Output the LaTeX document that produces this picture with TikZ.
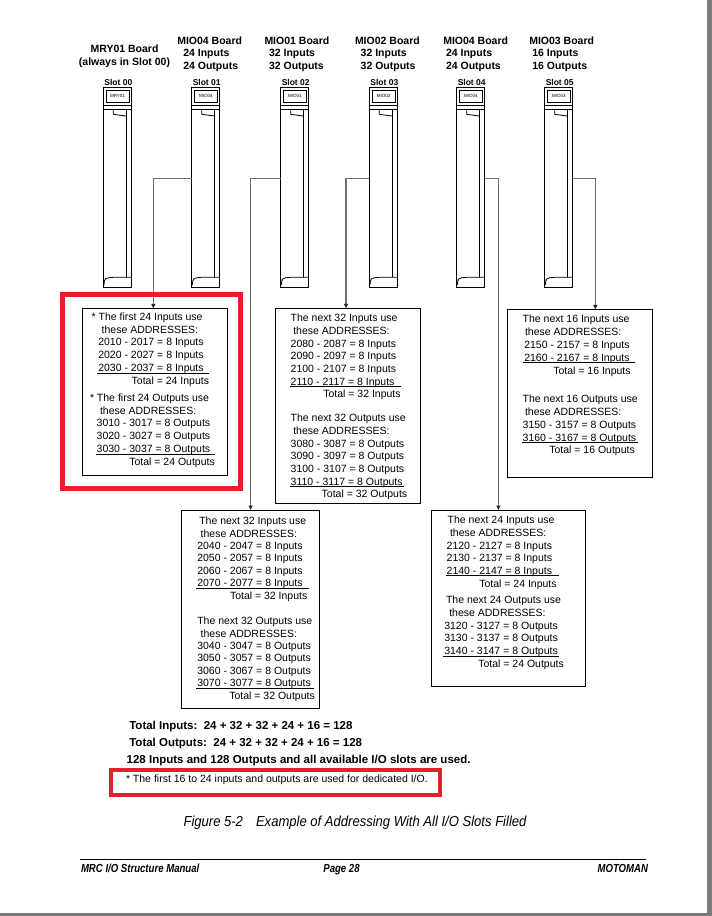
\documentclass[tikz,border=0pt]{standalone}
\usepackage{fontspec}
\setmainfont{Liberation Sans}
\newfontfamily\narrowfont[FakeStretch=0.82]{Liberation Sans}
\newfontfamily\captionfont[FakeStretch=0.9]{Liberation Sans}
\usepackage{xcolor}
\usetikzlibrary{arrows.meta}
\definecolor{wire}{HTML}{707070}
\definecolor{alert}{HTML}{E5202A}
\definecolor{pageedge}{HTML}{7A7A7A}
\newcommand{\ulrule}[1]{\makebox[0pt][l]{\hspace*{-1.2pt}\rule[-1.8pt]{#1}{0.8pt}}}

\begin{document}
\begin{tikzpicture}[x=1pt, y=-1pt,
      every node/.style={inner sep=0pt, outer sep=0pt},
      header/.style={font=\fontsize{10.5}{12.7}\selectfont\bfseries, align=left, anchor=north west},
      slotlabel/.style={font=\fontsize{8.5}{9}\selectfont\bfseries},
      cardlabel/.style={font=\fontsize{4.5}{5}\selectfont},
      card/.style={draw, line width=0.8pt, minimum width=28pt, minimum height=200.3pt},
      addrbox/.style={draw, line width=0.8pt},
      addrtext/.style={font=\fontsize{10.5}{12.7}\selectfont, align=left, anchor=north west},
      summary/.style={font=\fontsize{11.5}{14}\selectfont\bfseries, anchor=base west},
      link/.style={draw=wire, line width=1.6pt, -{Triangle[length=4.5pt, width=4pt, color=black!85]}},
      highlight/.style={draw=alert, line width=4.5pt},
      footer/.style={font=\narrowfont\fontsize{11.7}{13}\selectfont\bfseries\itshape}]
    \fill[white] (0,0) rectangle (712,916);
    \useasboundingbox (0,0) rectangle (712,916);
    \fill[pageedge] (707,0) rectangle (712,916);
    \fill[pageedge] (0,912.5) rectangle (712,916);

    \node[header, align=center, anchor=north] (hdr0) at (124.5,45) {MRY01 Board\\(always in Slot 00)};
    \node[header] (hdr1) at (177.3,36.5) {MIO04 Board\\\hspace*{6pt}24 Inputs\\\hspace*{6pt}24 Outputs};
    \node[header] (hdr2) at (264.5,36.5) {MIO01 Board\\\hspace*{4.5pt}32 Inputs\\\hspace*{4.5pt}32 Outputs};
    \node[header] (hdr3) at (355,36.5) {MIO02 Board\\\hspace*{5.7pt}32 Inputs\\\hspace*{5.7pt}32 Outputs};
    \node[header] (hdr4) at (443.3,36.5) {MIO04 Board\\\hspace*{2.7pt}24 Inputs\\\hspace*{2.7pt}24 Outputs};
    \node[header] (hdr5) at (529.3,36.5) {MIO03 Board\\\hspace*{3pt}16 Inputs\\\hspace*{3pt}16 Outputs};

    \foreach \i/\board/\xl in {0/MRY01/103.3, 1/MIO04/191.7, 2/MIO01/280.7, 3/MIO02/369.3, 4/MIO04/456.7, 5/MIO03/544.7} {
      \node[card] (slot\i) at (\xl+14,187.15) {};
      \node[slotlabel] (slotname\i) at (\xl+15,82.3) {Slot 0\i};
      \begin{scope}[shift={(\xl,87)}, line width=0.8pt]
        \draw (0,18.7) -- (28,18.7);
        \draw (2.7,3.7) rectangle (25.7,15);
        \node[cardlabel] (cardname\i) at (14.2,9.4) {\board};
        \draw (0,22.3) -- (28,22.3);
        \draw (10,22.3) -- (10,27.3) -- (22.7,29);
        \draw (22.7,22.3) -- (22.7,190.3);
        \draw (0.7,198) .. controls (1.2,191) .. (10,190.3) -- (28,190.3);
      \end{scope}
    }

    \node[addrbox, minimum width=145.4pt, minimum height=166.7pt] (boxA) at (155,391.65) {};
    \node[addrbox, minimum width=145pt, minimum height=195pt] (boxB) at (347.5,405.8) {};
    \node[addrbox, minimum width=145.4pt, minimum height=167.7pt] (boxC) at (580,393.15) {};
    \node[addrbox, minimum width=138.3pt, minimum height=198pt] (boxD) at (250.15,609) {};
    \node[addrbox, minimum width=154.7pt, minimum height=176pt] (boxE) at (508.35,598) {};

    \node[addrtext, font=\fontsize{10.5}{12.8}\selectfont] (textA) at (90,312.7) {%
      \hspace*{1.7pt}* The first 24 Inputs use\\
      \hspace*{11.7pt}these ADDRESSES:\\
      \hspace*{8.3pt}2010 - 2017 = 8 Inputs\\
      \hspace*{8.3pt}2020 - 2027 = 8 Inputs\\
      \hspace*{8.3pt}\ulrule{112pt}2030 - 2037 = 8 Inputs\\
      \hspace*{41.7pt}Total = 24 Inputs\\[4.2pt]
      * The first 24 Outputs use\\
      \hspace*{10pt}these ADDRESSES:\\
      \hspace*{6.7pt}3010 - 3017 = 8 Outputs\\
      \hspace*{6.7pt}3020 - 3027 = 8 Outputs\\
      \hspace*{6.7pt}\ulrule{119.3pt}3030 - 3037 = 8 Outputs\\
      \hspace*{39.3pt}Total = 24 Outputs};
    \node[addrtext, font=\fontsize{10.5}{12.65}\selectfont] (textB) at (290.7,314.3) {%
      The next 32 Inputs use\\
      \hspace*{2.6pt}these ADDRESSES:\\
      2080 - 2087 = 8 Inputs\\
      2090 - 2097 = 8 Inputs\\
      2100 - 2107 = 8 Inputs\\
      \ulrule{111pt}2110 - 2117 = 8 Inputs\\
      \hspace*{32.6pt}Total = 32 Inputs\\[11.35pt]
      The next 32 Outputs use\\
      \hspace*{2.6pt}these ADDRESSES:\\
      3080 - 3087 = 8 Outputs\\
      3090 - 3097 = 8 Outputs\\
      3100 - 3107 = 8 Outputs\\
      \ulrule{114.4pt}3110 - 3117 = 8 Outputs\\
      \hspace*{31pt}Total = 32 Outputs};
    \node[addrtext, font=\fontsize{10.5}{12.8}\selectfont] (textC) at (522.7,315.3) {%
      The next 16 Inputs use\\
      \hspace*{2.3pt}these ADDRESSES:\\
      \hspace*{1.6pt}2150 - 2157 = 8 Inputs\\
      \hspace*{1.6pt}\ulrule{111.6pt}2160 - 2167 = 8 Inputs\\
      \hspace*{30.6pt}Total = 16 Inputs\\[15.8pt]
      The next 16 Outputs use\\
      \hspace*{2.3pt}these ADDRESSES:\\
      3150 - 3157 = 8 Outputs\\
      \ulrule{116.7pt}3160 - 3167 = 8 Outputs\\
      \hspace*{26.6pt}Total = 16 Outputs};
    \node[addrtext, font=\fontsize{10.5}{12.45}\selectfont] (textD) at (197.3,517) {%
      \hspace*{2pt}The next 32 Inputs use\\
      \hspace*{3.4pt}these ADDRESSES:\\
      2040 - 2047 = 8 Inputs\\
      2050 - 2057 = 8 Inputs\\
      2060 - 2067 = 8 Inputs\\
      \ulrule{113.3pt}2070 - 2077 = 8 Inputs\\
      \hspace*{32.7pt}Total = 32 Inputs\\[12.85pt]
      The next 32 Outputs use\\
      \hspace*{3.4pt}these ADDRESSES:\\
      3040 - 3047 = 8 Outputs\\
      3050 - 3057 = 8 Outputs\\
      3060 - 3067 = 8 Outputs\\
      \ulrule{118.3pt}3070 - 3077 = 8 Outputs\\
      \hspace*{32pt}Total = 32 Outputs};
    \node[addrtext] (textE) at (444.3,516) {%
      \hspace*{3.4pt}The next 24 Inputs use\\
      \hspace*{5.7pt}these ADDRESSES:\\
      \hspace*{2.4pt}2120 - 2127 = 8 Inputs\\
      \hspace*{2.4pt}2130 - 2137 = 8 Inputs\\
      \hspace*{2.4pt}\ulrule{113.3pt}2140 - 2147 = 8 Inputs\\
      \hspace*{35pt}Total = 24 Inputs\\[4pt]
      \hspace*{1.7pt}The next 24 Outputs use\\
      \hspace*{5pt}these ADDRESSES:\\
      3120 - 3127 = 8 Outputs\\
      3130 - 3137 = 8 Outputs\\
      \ulrule{116pt}3140 - 3147 = 8 Outputs\\
      \hspace*{34pt}Total = 24 Outputs};

    \draw[link] ([yshift=8.5pt]slot1.west) -| ([xshift=-1.7pt]boxA.north);
    \draw[link] ([yshift=8.5pt]slot2.west) -| ([xshift=0.5pt]boxD.north);
    \draw[link] ([yshift=8.5pt]slot3.west) -| ([xshift=-1.5pt]boxB.north);
    \draw[link] ([yshift=8.5pt]slot4.east) -| ([xshift=-10pt]boxE.north);
    \draw[link] ([yshift=8.5pt]slot5.east) -| ([xshift=15.3pt]boxC.north);

    \draw[highlight] (62.5,294.5) rectangle (240.5,488.5);

    \node[summary] (totalin) at (129.3,729.3) {Total Inputs:\ \ 24 + 32 + 32 + 24 + 16 = 128};
    \node[summary] (totalout) at (129.3,746) {Total Outputs:\ \ 24 + 32 + 32 + 24 + 16 = 128};
    \node[summary] (allused) at (126.7,763.6) {128 Inputs and 128 Outputs and all available I/O slots are used.};
    \node[font=\fontsize{10.5}{12}\selectfont, anchor=base west] (dedicated) at (126,782.9) {* The first 16 to 24 inputs and outputs are used for dedicated I/O.};
    \draw[highlight] (111,770) rectangle (440,795);

    \node[font=\captionfont\itshape\fontsize{14.5}{16}\selectfont] (caption) at (355,823) {Figure 5-2\hspace{0.9em}Example of Addressing With All I/O Slots Filled};

    \draw[line width=1pt] (80,859) -- (646,859);
    \node[footer, anchor=base west] (manual) at (81,872) {MRC I/O Structure Manual};
    \node[footer, anchor=base] (page) at (341.5,872) {Page 28};
    \node[footer, anchor=base east] (brand) at (648,872) {MOTOMAN};
  \end{tikzpicture}
\end{document}
